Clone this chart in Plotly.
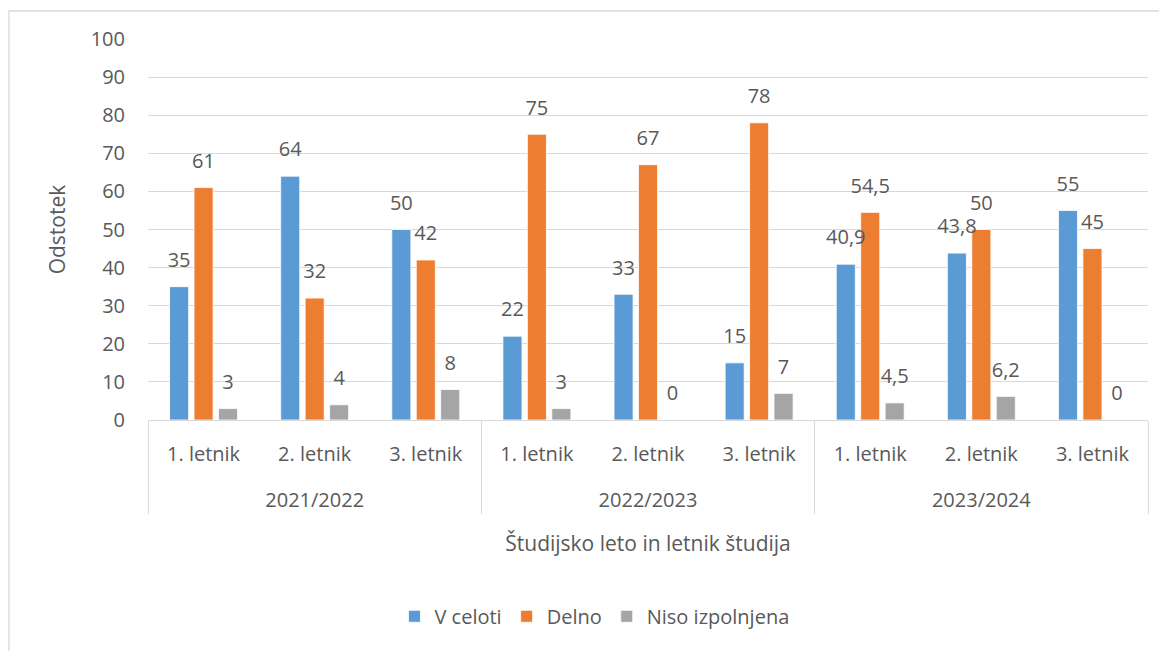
import plotly.graph_objects as go

years = ["2021/2022", "2022/2023", "2023/2024"]
letniki = ["1. letnik", "2. letnik", "3. letnik"]

v_celoti = [35, 64, 50, 22, 33, 15, 40.9, 43.8, 55]
delno = [61, 32, 42, 75, 67, 78, 54.5, 50, 45]
niso = [3, 4, 8, 3, 0, 7, 4.5, 6.2, 0]

series = [
    ("V celoti", v_celoti, "#5B9BD5"),
    ("Delno", delno, "#ED7D31"),
    ("Niso izpolnjena", niso, "#A5A5A5"),
]

x_outer = [y for y in years for _ in letniki]
x_inner = [l + "<br><span style='font-size:44px'>&nbsp;</span>" for _ in years for l in letniki]

FONT = "Open Sans"
TXT = "#595959"
GRID = "#D9D9D9"
FS = 20


def fmt(v):
    return ("%g" % v).replace(".", ",")


fig = go.Figure()
for i, (name, vals, col) in enumerate(series):
    fig.add_trace(go.Bar(
        name=name,
        x=[x_outer, x_inner],
        y=vals,
        offsetgroup=str(i),
        marker=dict(color=col, line=dict(color="white", width=0.8)),
        hoverinfo="skip",
    ))
for i, (name, vals, col) in enumerate(series):
    fig.add_trace(go.Scatter(
        name=name,
        x=[x_outer, x_inner],
        y=vals,
        offsetgroup=str(i),
        mode="markers+text",
        text=[fmt(v) for v in vals],
        textposition="top center",
        textfont=dict(family=FONT, size=FS, color=TXT),
        marker=dict(size=22, color="rgba(0,0,0,0)"),
        showlegend=False,
        cliponaxis=False,
        hoverinfo="skip",
    ))

# page body has an 8px margin; compensate so the plot sits where the reference has it
fig.update_layout(
    width=1159, height=643,
    margin=dict(l=140, r=19, t=31, b=231),
    paper_bgcolor="white", plot_bgcolor="white",
    barmode="group", bargap=0.34, bargroupgap=0.22,
    scattermode="group", scattergap=0.34,
    font=dict(family=FONT, size=FS, color=TXT),
    showlegend=True,
    legend=dict(
        orientation="h", xref="container", yref="container",
        x=0.506, y=0.054, xanchor="center", yanchor="middle",
        font=dict(family=FONT, size=FS, color=TXT),
        itemwidth=30, traceorder="normal",
    ),
    yaxis=dict(
        range=[0, 100], dtick=10, showgrid=True, gridcolor=GRID, gridwidth=1.3,
        zeroline=False, showline=False, ticks="",
        ticklabelstandoff=22,
        tickfont=dict(family=FONT, size=FS, color=TXT),
        title=dict(text="Odstotek", standoff=19,
                   font=dict(family=FONT, size=21, color=TXT)),
    ),
    xaxis=dict(
        type="multicategory", showline=True, linecolor=GRID, linewidth=1.3,
        showdividers=True, dividercolor=GRID, dividerwidth=1.3,
        ticks="", ticklabelstandoff=16,
        tickfont=dict(family=FONT, size=FS, color=TXT),
        title=dict(text="Študijsko leto in letnik študija", standoff=24,
                   font=dict(family=FONT, size=21, color=TXT)),
    ),
    shapes=[dict(type="rect", xref="paper", yref="paper",
                 x0=-0.139, x1=1.1, y0=-0.7, y1=1.0735,
                 line=dict(color=GRID, width=1.3), layer="below")],
)

fig.write_html("out.html")
